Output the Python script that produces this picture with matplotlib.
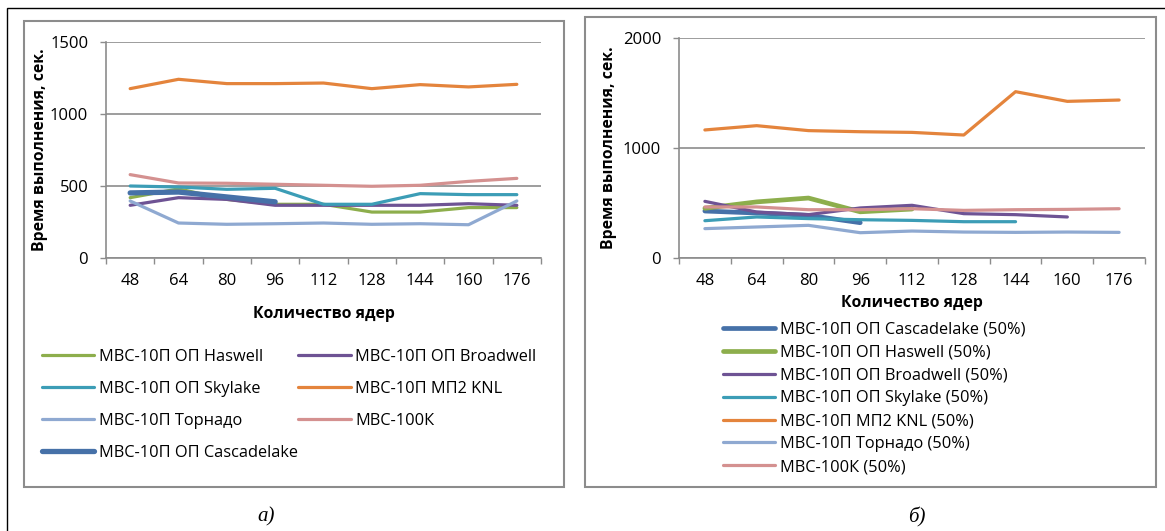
import numpy as np
import matplotlib
matplotlib.use("Agg")
import matplotlib.pyplot as plt
from matplotlib.patches import Rectangle

W, H = 1165, 531
nan = np.nan

cores = ["48", "64", "80", "96", "112", "128", "144", "160", "176"]

# левый график (а)
left_names = ["МВС-10П ОП Haswell", "МВС-10П ОП Broadwell", "МВС-10П ОП Skylake",
              "МВС-10П МП2 KNL", "МВС-10П Торнадо", "МВС-100К", "МВС-10П ОП Cascadelake"]
haswell = [419, 480, 407, 373, 373, 319, 319, 350, 350]
broadwell = [366, 419, 407, 366, 366, 366, 366, 377, 366]
skylake = [500, 493, 477, 484, 373, 373, 447, 440, 440]
knl = [1176, 1241, 1211, 1211, 1215, 1176, 1204, 1188, 1206]
tornado = [396, 243, 234, 238, 243, 234, 238, 231, 396]
mvs100k = [579, 521, 519, 512, 505, 498, 505, 532, 553]
cascade = [452, 458, 424, 390, nan, nan, nan, nan, nan]
left_series = [haswell, broadwell, skylake, knl, tornado, mvs100k, cascade]

# правый график (б), 50%
right_names = [n + " (50%)" for n in ["МВС-10П ОП Cascadelake", "МВС-10П ОП Haswell",
               "МВС-10П ОП Broadwell", "МВС-10П ОП Skylake", "МВС-10П МП2 KNL",
               "МВС-10П Торнадо", "МВС-100К"]]
cascade50 = [427, 409, 388, 321, nan, nan, nan, nan, nan]
haswell50 = [452, 510, 545, 420, 445, nan, nan, nan, nan]
broadwell50 = [515, 418, 394, 455, 479, 403, 394, 373, nan]
skylake50 = [339, 373, 358, 348, 342, 330, 330, nan, nan]
knl50 = [1164, 1203, 1158, 1148, 1142, 1118, 1512, 1424, 1436]
tornado50 = [267, 282, 297, 230, 245, 236, 233, 236, 233]
mvs100k50 = [464, 464, 439, 439, 448, 433, 439, 442, 448]
right_series = [cascade50, haswell50, broadwell50, skylake50, knl50, tornado50, mvs100k50]

c_green = "#8DAE4C"
c_purple = "#6E5394"
c_teal = "#3C9DB6"
c_orange = "#E4843C"
c_lblue = "#8FA9D1"
c_pink = "#D49190"
c_blue = "#4671A8"
left_colors = [c_green, c_purple, c_teal, c_orange, c_lblue, c_pink, c_blue]
left_lw = [2.3, 2.3, 2.3, 2.3, 2.3, 2.3, 3.8]
right_colors = [c_blue, c_green, c_purple, c_teal, c_orange, c_lblue, c_pink]
right_lw = [3.4, 3.4, 2.3, 2.3, 2.3, 2.3, 2.3]

FONT = ["Open Sans", "DejaVu Sans"]
plt.rcParams["font.family"] = FONT
GRID = "#8C8C8C"


def fx(x):
    return x / W


def fy(y):
    return 1 - y / H


def px_axes(fig, x0, y0, x1, y1):
    return fig.add_axes([fx(x0), fy(y1), (x1 - x0) / W, (y1 - y0) / H])


def style_axes(ax, ymax, step):
    x = np.arange(len(cores))
    ax.set_xlim(-0.5, len(cores) - 0.5)
    ax.set_ylim(0, ymax)
    ax.set_yticks(np.arange(0, ymax + 1, step))
    ax.set_xticks(x)
    ax.set_xticklabels(cores)
    ax.set_xticks(np.arange(-0.5, len(cores)), minor=True)
    ax.tick_params(axis="x", which="major", length=0, pad=11, labelsize=12)
    ax.tick_params(axis="x", which="minor", length=4.3, color=GRID, width=1)
    ax.tick_params(axis="y", length=4.3, color=GRID, width=1, labelsize=12, pad=8.5)
    for s in ["top", "right"]:
        ax.spines[s].set_visible(False)
    for s in ["left", "bottom"]:
        ax.spines[s].set_color(GRID)
        ax.spines[s].set_linewidth(1.2)
    ax.grid(axis="y", color=GRID, linewidth=1.2)
    ax.set_axisbelow(True)
    ax.set_ylabel("Время выполнения, сек.", fontsize=11.3, fontweight="bold")
    ax.set_xlabel("Количество ядер", fontsize=11.3, fontweight="bold")
    return x


fig = plt.figure(figsize=(W / 100, H / 100), dpi=100)

# рамки
fig.add_artist(Rectangle((fx(6.5), fy(560)), (1200 - 6.5) / W, (560 - 8) / H,
                         transform=fig.transFigure, fill=False, edgecolor="black", lw=1.0))
fig.add_artist(Rectangle((fx(24), fy(487)), (564 - 24) / W, (487 - 21) / H,
                         transform=fig.transFigure, fill=False, edgecolor=GRID, lw=1.5))
fig.add_artist(Rectangle((fx(585), fy(487)), (1156 - 585) / W, (487 - 17) / H,
                         transform=fig.transFigure, fill=False, edgecolor=GRID, lw=1.5))

# (а)
ax1 = px_axes(fig, 106, 42, 541, 258)
x = style_axes(ax1, 1500, 500)
handles = []
for name, vals, col, lw in zip(left_names, left_series, left_colors, left_lw):
    h, = ax1.plot(x, vals, color=col, lw=lw, label=name, solid_capstyle="round")
    handles.append(h)
ax1.yaxis.set_label_coords(-0.133, 0.5)
ax1.xaxis.set_label_coords(0.5, -0.222)
order = [0, 2, 4, 6, 1, 3, 5]
fig.legend([handles[i] for i in order], [left_names[i] for i in order],
           loc="upper left", bbox_to_anchor=(fx(27), fy(334)), ncol=2, frameon=False,
           fontsize=11.8, handlelength=3.2, handletextpad=0.3, labelspacing=0.98,
           columnspacing=0.0)

# (б)
ax2 = px_axes(fig, 679, 38, 1145, 258)
x = style_axes(ax2, 2000, 1000)
handles = []
for name, vals, col, lw in zip(right_names, right_series, right_colors, right_lw):
    h, = ax2.plot(x, vals, color=col, lw=lw, label=name, solid_capstyle="round")
    handles.append(h)
ax2.yaxis.set_label_coords(-0.133, 0.5)
ax2.xaxis.set_label_coords(0.5, -0.168)
fig.legend(handles, right_names, loc="upper left", bbox_to_anchor=(fx(708), fy(307)),
           frameon=False, fontsize=11.8, handlelength=3.2, handletextpad=0.3,
           labelspacing=0.42)

fig.text(fx(266), fy(517), "а)", ha="center", va="center", fontsize=15, style="italic",
         family="Liberation Serif")
fig.text(fx(917), fy(517), "б)", ha="center", va="center", fontsize=15, style="italic",
         family="Liberation Serif")

fig.savefig("out.png", dpi=100)
